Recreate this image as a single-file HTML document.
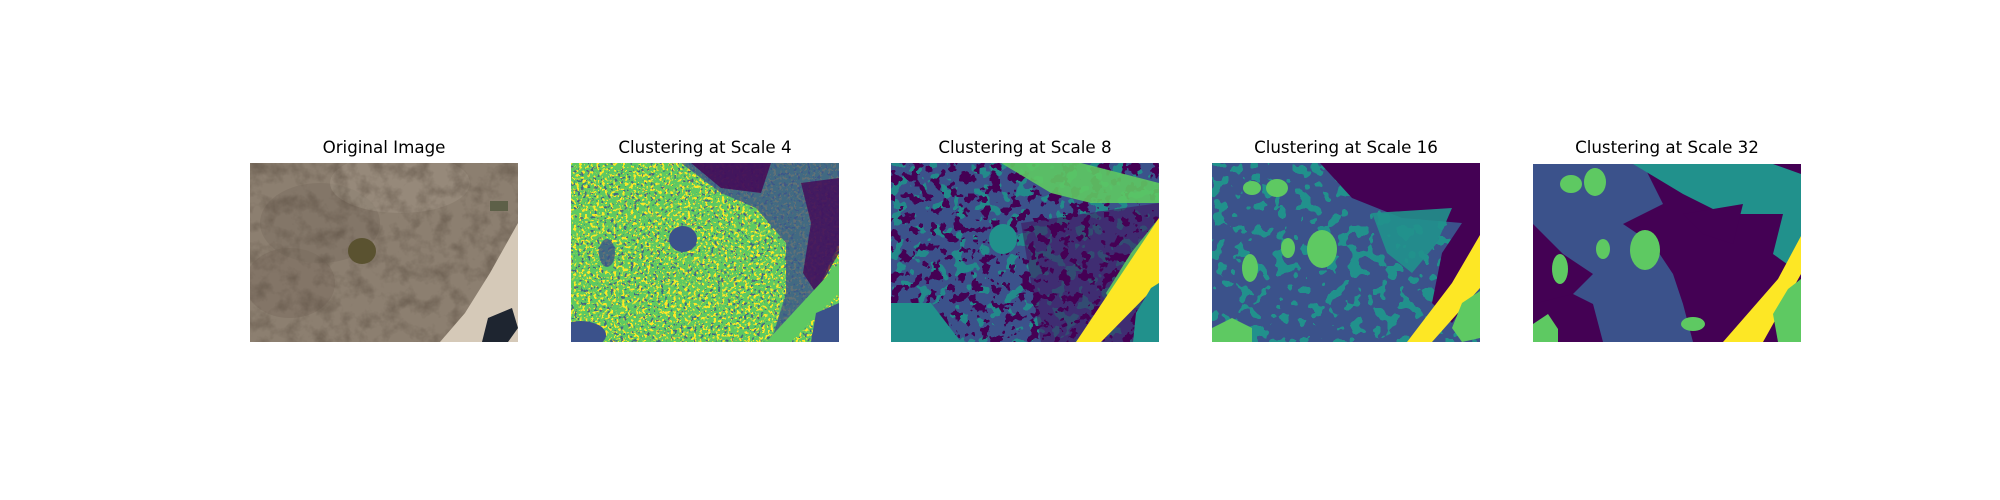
<!DOCTYPE html>
<html><head><meta charset="utf-8">
<style>
html,body{margin:0;padding:0;background:#fff;}
#fig{position:relative;width:2000px;height:500px;overflow:hidden;background:#fff;font-family:"DejaVu Sans","Liberation Sans",sans-serif;}
.title{position:absolute;top:137px;width:268px;text-align:center;font-size:16.7px;color:#000;line-height:20px;white-space:nowrap;}
.panel{position:absolute;top:163px;width:268px;height:179px;overflow:hidden;}
svg{display:block;}
filter{color-interpolation-filters:sRGB;}
</style></head>
<body>
<div id="fig">
<svg width="0" height="0" style="position:absolute">
 <defs>
  <filter id="spkY" x="0" y="0" width="100%" height="100%" color-interpolation-filters="sRGB">
   <feTurbulence type="fractalNoise" baseFrequency="0.35" numOctaves="2" seed="4"/>
   <feColorMatrix type="matrix" values="0 0 0 0 0.99  0 0 0 0 0.91  0 0 0 0 0.15  6 0 0 0 -3"/>
   <feComponentTransfer><feFuncA type="discrete" tableValues="0 1"/></feComponentTransfer>
  </filter>
  <filter id="spkB" x="0" y="0" width="100%" height="100%" color-interpolation-filters="sRGB">
   <feTurbulence type="fractalNoise" baseFrequency="0.3" numOctaves="2" seed="9"/>
   <feColorMatrix type="matrix" values="0 0 0 0 0.23  0 0 0 0 0.32  0 0 0 0 0.55  6 0 0 0 -3.4"/>
   <feComponentTransfer><feFuncA type="discrete" tableValues="0 1"/></feComponentTransfer>
  </filter>
  <filter id="spkP" x="0" y="0" width="100%" height="100%" color-interpolation-filters="sRGB">
   <feTurbulence type="fractalNoise" baseFrequency="0.1" numOctaves="3" seed="2"/>
   <feColorMatrix type="matrix" values="0 0 0 0 0.27  0 0 0 0 0.00  0 0 0 0 0.33  6 0 0 0 -3"/>
   <feComponentTransfer><feFuncA type="discrete" tableValues="0 1"/></feComponentTransfer>
  </filter>
  <filter id="spkT" x="0" y="0" width="100%" height="100%" color-interpolation-filters="sRGB">
   <feTurbulence type="fractalNoise" baseFrequency="0.08" numOctaves="2" seed="7"/>
   <feColorMatrix type="matrix" values="0 0 0 0 0.13  0 0 0 0 0.57  0 0 0 0 0.55  6 0 0 0 -3"/>
   <feComponentTransfer><feFuncA type="discrete" tableValues="0 1"/></feComponentTransfer>
  </filter>
  <filter id="grain" x="0" y="0" width="100%" height="100%" color-interpolation-filters="sRGB">
   <feTurbulence type="fractalNoise" baseFrequency="0.06" numOctaves="4" seed="5"/>
   <feColorMatrix type="matrix" values="0 0 0 0 0.35  0 0 0 0 0.3  0 0 0 0 0.25  1.2 0 0 0 -0.5"/>
  </filter>
 </defs>
</svg>

<!-- Panel 1 -->
<div class="title" style="left:250px">Original Image</div>
<div class="panel" style="left:250px">
<svg width="268" height="179" viewBox="0 0 268 179">
 <rect width="268" height="179" fill="#8c7f70"/>
 <ellipse cx="70" cy="60" rx="60" ry="40" fill="#7d7062" opacity="0.6"/>
 <ellipse cx="40" cy="120" rx="45" ry="35" fill="#7a6c5d" opacity="0.5"/>
 <ellipse cx="150" cy="20" rx="70" ry="30" fill="#a09383" opacity="0.5"/>
 <rect width="268" height="179" filter="url(#grain)"/>
 <polygon points="268,60 268,179 190,179 215,150 240,110" fill="#d5c9b8"/>
 <polygon points="238,155 262,145 268,165 258,179 232,179" fill="#1e2530"/>
 <ellipse cx="112" cy="88" rx="14" ry="13" fill="#5a5230"/>
 <rect x="240" y="38" width="18" height="10" fill="#5d6048"/>
</svg></div>

<!-- Panel 2 -->
<div class="title" style="left:571px">Clustering at Scale 4</div>
<div class="panel" style="left:571px">
<svg width="268" height="179" viewBox="0 0 268 179">
 <rect width="268" height="179" fill="#5ec962"/>
 <rect width="268" height="179" filter="url(#spkY)"/>
 <rect width="268" height="179" filter="url(#spkB)" opacity="0.8"/>
 <polygon points="110,0 268,0 268,80 250,120 230,150 215,179 200,179 215,130 215,80 185,45 150,30" fill="#3b528b" opacity="0.8"/>
 <polygon points="120,0 200,0 190,30 150,25" fill="#440154" opacity="0.8"/>
 <polygon points="230,20 268,15 268,90 245,130 232,110 240,60" fill="#440154" opacity="0.75"/>
 <polygon points="268,100 268,130 220,179 195,179" fill="#5ec962"/>
 <polygon points="268,140 268,179 240,179 245,150" fill="#3b528b"/>
 <ellipse cx="112" cy="76" rx="14" ry="13" fill="#3b528b"/>
 <ellipse cx="10" cy="172" rx="25" ry="14" fill="#3b528b"/>
 <ellipse cx="36" cy="90" rx="8" ry="14" fill="#3b528b" opacity="0.8"/>
</svg></div>

<!-- Panel 3 -->
<div class="title" style="left:891px">Clustering at Scale 8</div>
<div class="panel" style="left:891px">
<svg width="268" height="179" viewBox="0 0 268 179">
 <rect width="268" height="179" fill="#3b528b"/>
 <rect width="268" height="179" filter="url(#spkT)" opacity="0.9"/>
 <rect width="268" height="179" filter="url(#spkP)"/>
 <polygon points="130,60 268,40 268,179 150,179 140,120" fill="#440154" opacity="0.45"/>
 <polygon points="0,140 40,140 70,179 0,179" fill="#21918c"/>
 <polygon points="110,0 190,0 268,20 268,40 200,40 160,30" fill="#5ec962" opacity="0.9"/>
 <polygon points="268,55 268,100 225,150 215,130 240,90" fill="#5ec962" opacity="0.9"/>
 <polygon points="268,55 268,120 210,179 185,179" fill="#fde725"/>
 <polygon points="268,120 268,179 242,179 245,150 260,125" fill="#21918c"/>
 <ellipse cx="112" cy="76" rx="14" ry="15" fill="#21918c"/>
</svg></div>

<!-- Panel 4 -->
<div class="title" style="left:1212px">Clustering at Scale 16</div>
<div class="panel" style="left:1212px">
<svg width="268" height="179" viewBox="0 0 268 179">
 <rect width="268" height="179" fill="#3b528b"/>
 <rect width="268" height="179" filter="url(#spkT)"/>
 <polygon points="108,0 268,0 268,120 240,160 220,140 230,90 250,60 190,55 140,35" fill="#440154"/>
 <polygon points="160,50 240,45 225,80 200,110 175,90" fill="#21918c" opacity="0.9"/>
 <ellipse cx="110" cy="86" rx="15" ry="19" fill="#5ec962"/>
 <ellipse cx="65" cy="25" rx="11" ry="9" fill="#5ec962"/>
 <ellipse cx="40" cy="25" rx="9" ry="7" fill="#5ec962"/>
 <ellipse cx="38" cy="105" rx="8" ry="14" fill="#5ec962"/>
 <ellipse cx="76" cy="85" rx="7" ry="10" fill="#5ec962"/>
 <polygon points="0,165 20,155 40,165 40,179 0,179" fill="#5ec962"/>
 <polygon points="268,72 268,125 220,179 195,179 240,120" fill="#fde725"/>
 <polygon points="268,128 268,175 250,179 240,165 250,140" fill="#5ec962"/>
</svg></div>

<!-- Panel 5 -->
<div class="title" style="left:1533px">Clustering at Scale 32</div>
<div class="panel" style="left:1533px;top:164px;height:178px">
<svg width="268" height="178" viewBox="0 0 268 178">
 <rect width="268" height="178" fill="#440154"/>
 <polygon points="0,0 110,0 130,40 90,60 120,80 140,110 150,140 160,178 70,178 60,140 20,120 0,60" fill="#3b528b"/>
 <polygon points="0,60 30,90 60,110 40,130 0,140" fill="#440154"/>
 <polygon points="100,0 240,0 268,10 268,110 240,90 250,50 190,50 150,30" fill="#21918c"/>
 <polygon points="150,50 210,40 200,80 170,70" fill="#440154"/>
 <ellipse cx="38" cy="20" rx="11" ry="9" fill="#5ec962"/>
 <ellipse cx="62" cy="18" rx="11" ry="14" fill="#5ec962"/>
 <ellipse cx="112" cy="86" rx="15" ry="20" fill="#5ec962"/>
 <ellipse cx="27" cy="105" rx="8" ry="15" fill="#5ec962"/>
 <ellipse cx="70" cy="85" rx="7" ry="10" fill="#5ec962"/>
 <polygon points="0,160 15,150 25,165 25,178 0,178" fill="#5ec962"/>
 <ellipse cx="160" cy="160" rx="12" ry="7" fill="#5ec962"/>
 <polygon points="268,72 268,110 230,178 190,178 245,115" fill="#fde725"/>
 <polygon points="268,115 268,178 245,178 240,150 255,125" fill="#5ec962"/>
</svg></div>
</div>
</body></html>
